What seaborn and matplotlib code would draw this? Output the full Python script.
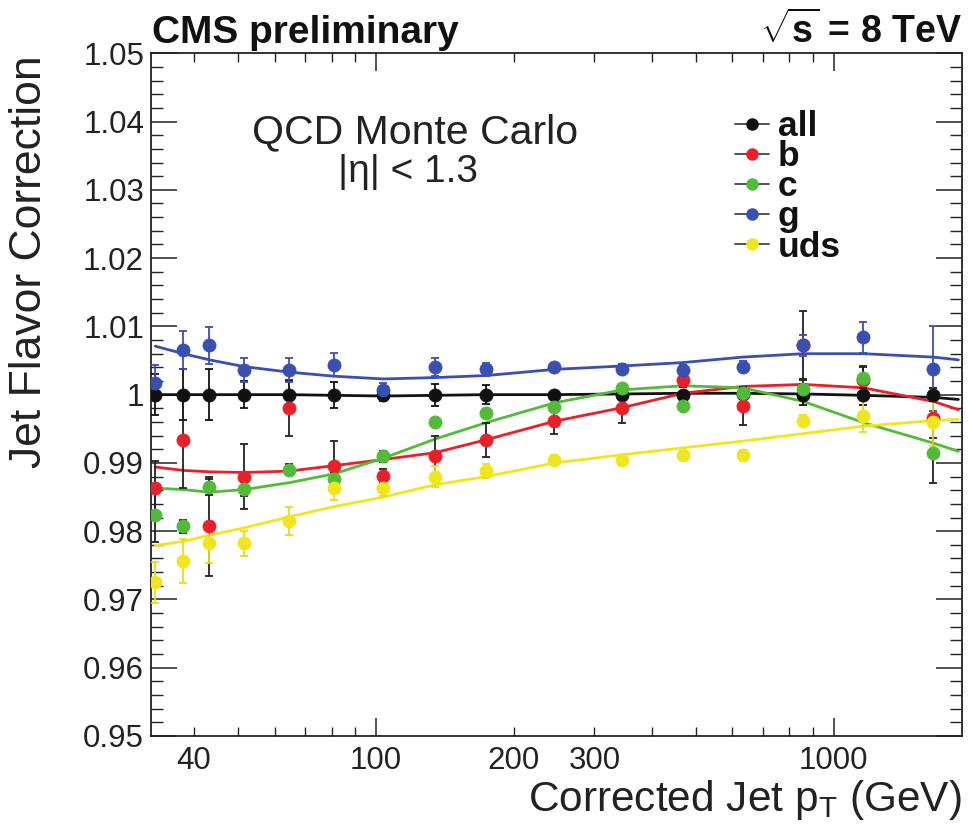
import numpy as np
import pandas as pd
import matplotlib
matplotlib.use("Agg")
import matplotlib.pyplot as plt
import seaborn as sns
from matplotlib.ticker import FixedLocator, FuncFormatter, MultipleLocator, NullFormatter
from matplotlib.lines import Line2D

# ---------------- data ----------------
pt = [32.9, 37.9, 43.2, 51.5, 64.5, 80.9, 103.7, 134.6, 174.0, 245.3,
      345.4, 468.0, 633.0, 859.0, 1162.0, 1653.0]

all_val = [1.0000, 1.0000, 1.0000, 1.0000, 1.0000, 1.0000, 0.9999, 1.0000,
           1.0000, 1.0000, 1.0000, 1.0000, 1.0001, 1.0000, 1.0000, 1.0000]
all_err = [0.0030, 0.0037, 0.0037, 0.0020, 0.0020, 0.0019, 0.0008, 0.0016,
           0.0014, 0.0005, 0.0004, 0.0004, 0.0008, 0.0015, 0.0015, 0.0010]

b_val = [0.9863, 0.9934, 0.9807, 0.9880, 0.9981, 0.9895, 0.9881, 0.9910,
         0.9934, 0.9961, 0.9981, 1.0021, 0.9983, 1.0073, 1.0022, 0.9966]
b_err = [0.0040, 0.0071, 0.0072, 0.0047, 0.0041, 0.0037, 0.0010, 0.0030,
         0.0025, 0.0018, 0.0022, 0.0010, 0.0028, 0.0050, 0.0020, 0.0030]

c_val = [0.9824, 0.9807, 0.9865, 0.9862, 0.9890, 0.9877, 0.9910, 0.9960,
         0.9973, 0.9982, 1.0010, 0.9983, 1.0002, 1.0009, 1.0025, 0.9914]
c_err = [0.0040, 0.0010, 0.0012, 0.0010, 0.0008, 0.0010, 0.0008, 0.0006,
         0.0006, 0.0005, 0.0005, 0.0006, 0.0008, 0.0012, 0.0015, 0.0044]

g_val = [1.0017, 1.0065, 1.0072, 1.0036, 1.0036, 1.0044, 1.0007, 1.0040,
         1.0037, 1.0040, 1.0038, 1.0036, 1.0041, 1.0072, 1.0084, 1.0038]
g_err = [0.0027, 0.0028, 0.0027, 0.0017, 0.0017, 0.0017, 0.0010, 0.0013,
         0.0010, 0.0007, 0.0007, 0.0008, 0.0008, 0.0016, 0.0023, 0.0062]

uds_val = [0.9725, 0.9756, 0.9782, 0.9782, 0.9815, 0.9863, 0.9863, 0.9880,
           0.9888, 0.9904, 0.9904, 0.9911, 0.9911, 0.9962, 0.9968, 0.9960]
uds_err = [0.0030, 0.0032, 0.0028, 0.0018, 0.0020, 0.0017, 0.0012, 0.0015,
           0.0010, 0.0007, 0.0007, 0.0007, 0.0008, 0.0008, 0.0022, 0.0035]

# fitted curves (read at these pT values)
pt_fit = [32.9, 37.9, 43.2, 51.5, 64.5, 80.9, 103.7, 134.6, 174.0, 245.3,
          345.4, 468.0, 633.0, 859.0, 1162.0, 1653.0, 1874.0]
all_fit = [1.0000, 1.0000, 1.0000, 1.0000, 1.0000, 0.9999, 0.9998, 0.9999, 1.0000,
           1.0000, 1.0001, 1.0002, 1.0002, 1.0001, 0.9999, 0.9996, 0.9993]
b_fit = [0.9894, 0.9889, 0.9887, 0.9886, 0.9888, 0.9896, 0.9905, 0.9915, 0.9934,
         0.9961, 0.9981, 1.0002, 1.0012, 1.0015, 1.0010, 0.9990, 0.9978]
c_fit = [0.9863, 0.9861, 0.9857, 0.9861, 0.9871, 0.9884, 0.9907, 0.9935, 0.9959,
         0.9988, 1.0007, 1.0013, 1.0010, 0.9990, 0.9959, 0.9929, 0.9917]
g_fit = [1.0071, 1.0060, 1.0051, 1.0041, 1.0033, 1.0027, 1.0023, 1.0025, 1.0028,
         1.0037, 1.0042, 1.0047, 1.0055, 1.0060, 1.0060, 1.0055, 1.0051]
uds_fit = [0.9779, 0.9785, 0.9794, 0.9805, 0.9821, 0.9836, 0.9850, 0.9868, 0.9880,
           0.9900, 0.9912, 0.9922, 0.9932, 0.9943, 0.9954, 0.9962, 0.9964]

labels = ["all", "b", "c", "g", "uds"]
x_major = [100, 1000]
x_minor = [40, 50, 60, 70, 80, 90, 200, 300, 400, 500, 600, 700, 800, 900]
x_minor_labels = [40, 200, 300]

# ---------------- style ----------------
sns.set_theme(style="ticks")
plt.rcParams["font.family"] = ["Liberation Sans", "DejaVu Sans"]
plt.rcParams["mathtext.fontset"] = "custom"
plt.rcParams["mathtext.rm"] = "Liberation Sans"
plt.rcParams["mathtext.bf"] = "Liberation Sans:bold"
plt.rcParams["mathtext.it"] = "Liberation Sans:italic"

colors = {"all": "#111111", "b": "#e8202a", "c": "#52bb3a", "g": "#3a4fb0", "uds": "#efe620"}
ecolors = {"all": "#111111", "b": "#222222", "c": "#222222", "g": "#3a4fb0", "uds": "#e6dc1a"}

vals = {"all": all_val, "b": b_val, "c": c_val, "g": g_val, "uds": uds_val}
errs = {"all": all_err, "b": b_err, "c": c_err, "g": g_err, "uds": uds_err}
fits = {"all": all_fit, "b": b_fit, "c": c_fit, "g": g_fit, "uds": uds_fit}

W, H = 973, 838
fig = plt.figure(figsize=(W / 100, H / 100), dpi=100)
fig.patch.set_facecolor("white")
ax = fig.add_axes([151 / W, 1 - 736 / H, (962 - 151) / W, (736 - 53.3) / H])
ax.set_facecolor("white")

fit_df = pd.concat([pd.DataFrame({"pt": pt_fit, "v": fits[k], "flavor": k}) for k in labels])
pts_df = pd.concat([pd.DataFrame({"pt": pt, "v": vals[k], "e": errs[k], "flavor": k}) for k in labels])

for k in labels:
    sub = fit_df[fit_df.flavor == k]
    sns.lineplot(data=sub, x="pt", y="v", ax=ax, color=colors[k], lw=2.0,
                 estimator=None, sort=False, zorder=2, legend=False)

for k in labels:
    sub = pts_df[pts_df.flavor == k]
    ax.errorbar(sub.pt, sub.v, yerr=sub.e, fmt="none", ecolor=ecolors[k],
                elinewidth=1.3, capsize=3, capthick=1.3, zorder=3)
    sns.scatterplot(data=sub, x="pt", y="v", ax=ax, color=colors[k], s=90,
                    edgecolor=colors[k], linewidth=0.5, zorder=4, legend=False)

ax.set_xscale("log")
ax.set_xlim(32.2, 1908)
ax.set_ylim(0.95, 1.05)
ax.set_xlabel("")
ax.set_ylabel("")

ax.xaxis.set_major_locator(FixedLocator(x_major))
ax.xaxis.set_minor_locator(FixedLocator(x_minor))
ax.xaxis.set_major_formatter(FuncFormatter(lambda v, p: f"{v:g}"))
ax.xaxis.set_minor_formatter(FuncFormatter(lambda v, p: f"{v:g}" if round(v) in x_minor_labels else ""))
ax.yaxis.set_major_locator(MultipleLocator(0.01))
ax.yaxis.set_minor_locator(MultipleLocator(0.002))
ax.yaxis.set_major_formatter(FuncFormatter(lambda v, p: f"{round(v, 3):g}"))

ax.tick_params(axis="y", which="major", direction="in", length=19, width=1.1,
               left=True, right=True, labelsize=22.5, pad=5, colors="#222222", labelcolor="#222222")
ax.tick_params(axis="y", which="minor", direction="in", length=8.5, width=1.0,
               left=True, right=True, colors="#222222")
ax.tick_params(axis="x", which="major", direction="in", length=13, width=1.1,
               bottom=True, top=True, labelsize=22.5, pad=7, colors="#222222", labelcolor="#222222")
ax.tick_params(axis="x", which="minor", direction="in", length=6.5, width=1.0,
               bottom=True, top=True, labelsize=22.5, pad=7, colors="#222222", labelcolor="#222222")
for s in ax.spines.values():
    s.set_linewidth(1.3)
    s.set_color("#222222")

# texts
bold_family = ["Liberation Sans", "DejaVu Sans"]
fig.text(152 / W, 1 - 43 / H, "CMS preliminary", fontsize=28, fontweight="bold",
         family=bold_family, ha="left", va="baseline", color="#111111")
fig.text(962 / W, 1 - 43 / H, r"$\sqrt{\mathbf{s}}$ = 8 TeV", fontsize=27, fontweight="bold",
         family=bold_family, ha="right", va="baseline", color="#111111")
fig.text(415 / W, 1 - 132 / H, "QCD Monte Carlo", fontsize=29.5, ha="center", va="center", color="#222222")
fig.text(408 / W, 1 - 172 / H, "|η| < 1.3", fontsize=28, ha="center", va="center", color="#222222")
fig.text(30 / W, 1 - 55 / H, "Jet Flavor Correction", fontsize=32, rotation=90,
         ha="center", va="top", color="#222222")
fig.text(962 / W, 1 - 800 / H, r"Corrected Jet p$_{\rm T}$ (GeV)", fontsize=30.5,
         ha="right", va="center", color="#222222")

handles = [Line2D([], [], color="#444444", lw=1.3, marker="o", markersize=8,
                  markerfacecolor=colors[k], markeredgecolor=colors[k]) for k in labels]
leg = ax.legend(handles, labels, loc="upper left", bbox_to_anchor=(735 / W, 1 - 110 / H),
                bbox_transform=fig.transFigure, frameon=False, fontsize=25.5,
                handlelength=0.95, handletextpad=0.26, labelspacing=-0.08,
                borderpad=0, borderaxespad=0)
for t in leg.get_texts():
    t.set_fontweight("bold")
    t.set_color("#111111")

fig.savefig("out.png", dpi=100)
